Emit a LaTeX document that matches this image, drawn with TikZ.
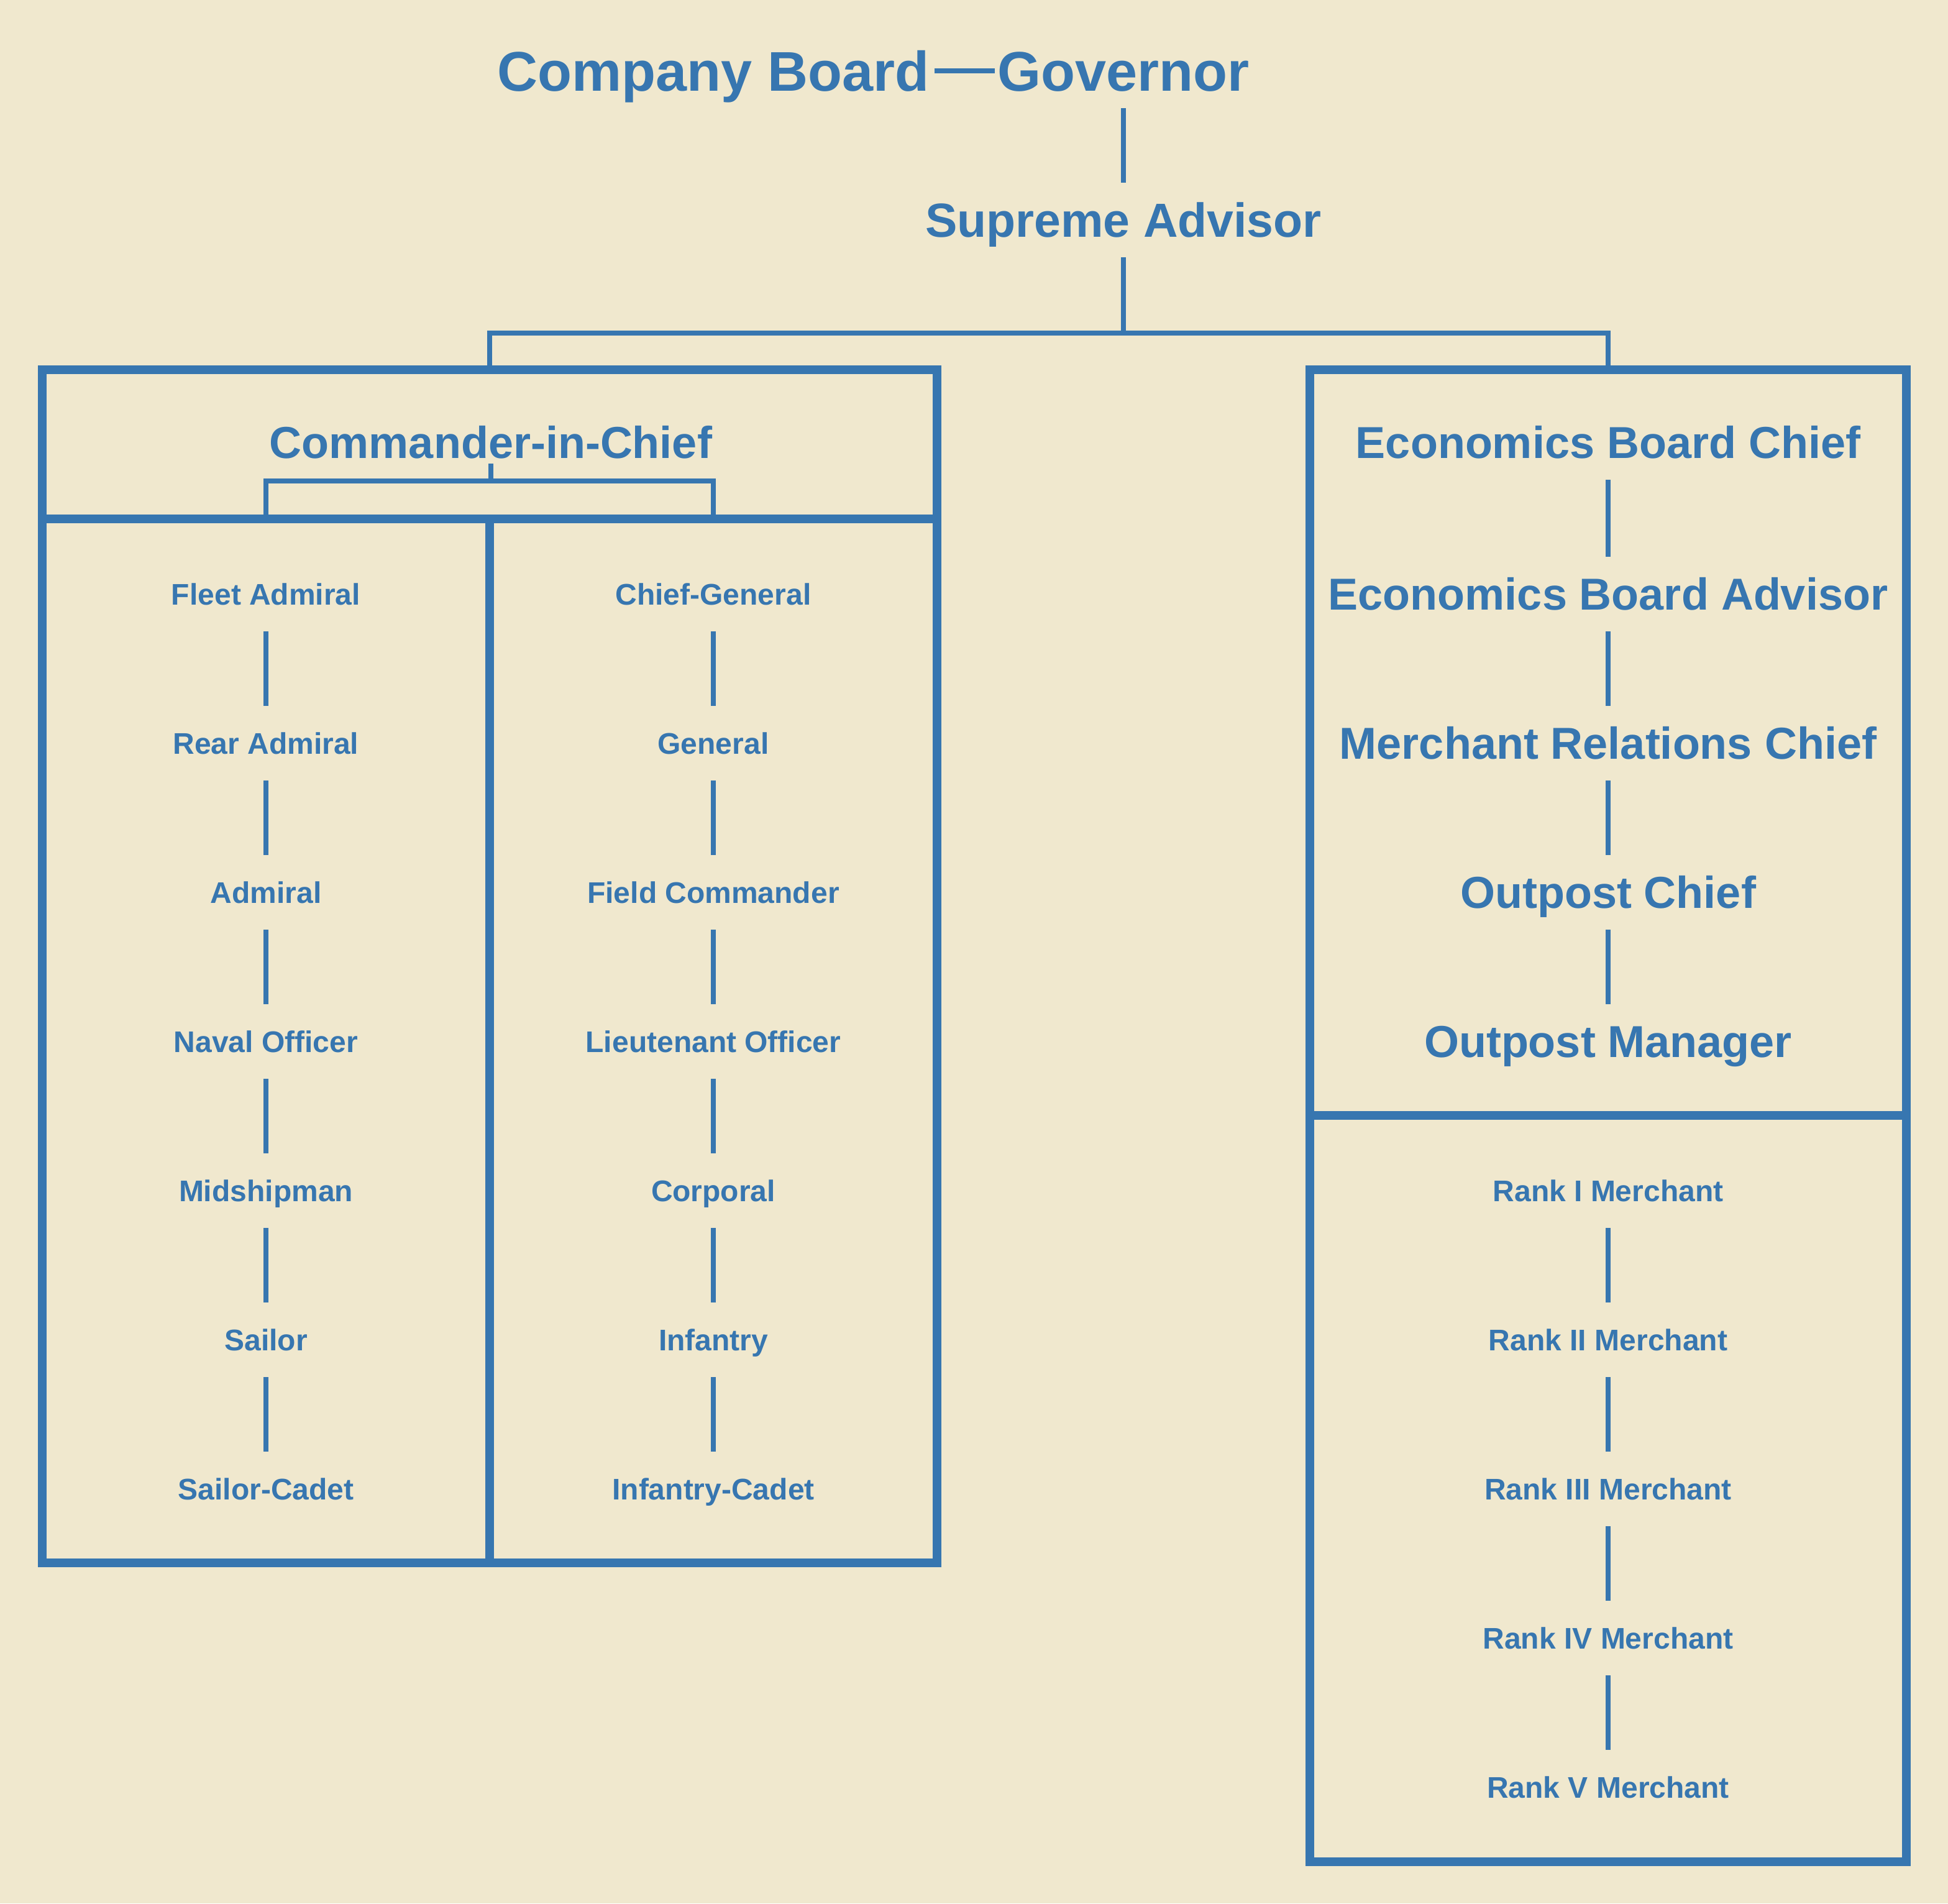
\documentclass[tikz,border=0pt]{standalone}
\usepackage{fontspec}
\setmainfont{Liberation Sans}
\definecolor{orgblue}{RGB}{55,118,176}
\definecolor{paper}{RGB}{240,232,206}
\begin{document}
\begin{tikzpicture}[x=1pt,y=-1pt,
  lab/.style={inner sep=0pt, outer sep=0pt, text=orgblue, minimum height=60pt, text depth=0pt, anchor=center},
  big/.style={lab, font=\fontsize{45}{54}\selectfont\bfseries, text height=32.2pt},
  supl/.style={lab, font=\fontsize{38.5}{46}\selectfont\bfseries, text height=27.6pt},
  mid/.style={lab, font=\fontsize{36}{43}\selectfont\bfseries, text height=25.8pt},
  small/.style={lab, font=\fontsize{24}{29}\selectfont\bfseries, text height=17.2pt},
  conn/.style={draw=orgblue, line width=4.4pt},
  frame/.style={draw=orgblue, line width=7pt, inner sep=0pt, rectangle},
]
\fill[paper] (0,0) rectangle (1567.5,1531.5);
\useasboundingbox (0,0) rectangle (1567.5,1531.5);

% frames
\node[frame, minimum width=720pt, minimum height=960pt] (cincbox) at (394,777.5) {};
\node[frame, minimum width=360pt, minimum height=840pt] (navybox) at (214,837.5) {};
\node[frame, minimum width=360pt, minimum height=840pt] (armybox) at (574,837.5) {};
\node[frame, minimum width=480pt, minimum height=1200.5pt] (econbox) at (1294,897.75) {};
\node[frame, minimum width=480pt, minimum height=600.5pt] (merchbox) at (1294,1197.75) {};

% top labels
\node[big] (cb) at (574,57) {Company Board};
\node[big] (gov) at (904,57) {Governor};
\node[supl] (sa) at (904,177) {Supreme Advisor};
\node[mid, minimum height=34pt] (cinc) at (395,356) {Commander-in-Chief};

% navy
\foreach \t [count=\i] in {Fleet Admiral,Rear Admiral,Admiral,Naval Officer,Midshipman,Sailor,Sailor-Cadet}
  \node[small] (n\i) at (214,358+120*\i) {\t};
% army
\foreach \t [count=\i] in {Chief-General,General,Field Commander,Lieutenant Officer,Corporal,Infantry,Infantry-Cadet}
  \node[small] (a\i) at (574,358+120*\i) {\t};
\foreach \i [evaluate=\i as \j using int(\i+1)] in {1,...,6}{
  \draw[conn] (n\i) -- (n\j);
  \draw[conn] (a\i) -- (a\j);
}

% economics
\node[mid] (e1) at (1294,356) {Economics Board Chief};
\node[mid] (e2) at (1294,478) {Economics Board Advisor};
\node[mid] (e3) at (1294,598) {Merchant Relations Chief};
\node[mid] (e4) at (1294,718) {Outpost Chief};
\node[mid] (e5) at (1294,838) {Outpost Manager};
\foreach \i [evaluate=\i as \j using int(\i+1)] in {1,...,4}
  \draw[conn] (e\i) -- (e\j);

% merchants
\foreach \t [count=\i] in {Rank I Merchant,Rank II Merchant,Rank III Merchant,Rank IV Merchant,Rank V Merchant}
  \node[small] (m\i) at (1294,838+120*\i) {\t};
\foreach \i [evaluate=\i as \j using int(\i+1)] in {1,...,4}
  \draw[conn] (m\i) -- (m\j);

% connectors
\draw[conn, shorten <=4pt, shorten >=2pt] (cb.east) -- (gov.west);
\draw[conn] (gov) -- (sa);
\coordinate (split) at (904,268);
\draw[conn] (sa.south) -- (split);
\draw[conn] (split) -| (cincbox.north);
\draw[conn] (split) -| (econbox.north);
\draw[conn] (cinc.south) -- ++(0,14) coordinate (csplit);
\draw[conn] (csplit) -| (navybox.north);
\draw[conn] (csplit) -| (armybox.north);
\end{tikzpicture}
\end{document}
